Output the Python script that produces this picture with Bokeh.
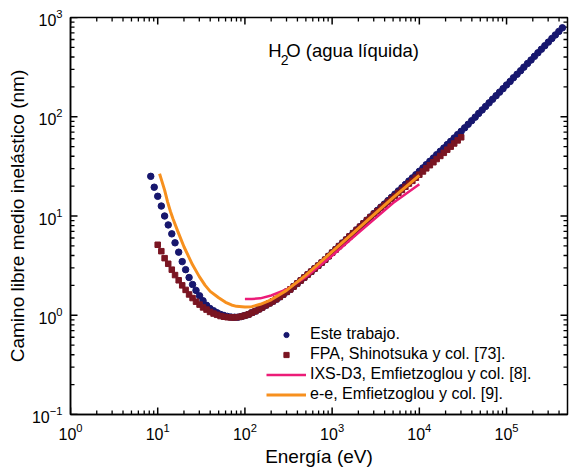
import math

from bokeh.plotting import figure
from bokeh.models import Range1d, FixedTicker, Legend, LegendItem, Label, Title
from bokeh.embed import file_html
from bokeh.resources import INLINE

FONT = "Liberation Sans"

# Inelastic mean free path of electrons in liquid water (nm) vs energy (eV)

# Este trabajo
este_E = [8.32, 9.12,
          10.0, 11.0, 12.0, 13.2, 14.5, 15.8, 17.4, 19.1, 20.9, 22.9, 25.1, 27.5, 30.2,
          33.1, 36.3, 39.8, 43.7, 47.9, 52.5, 57.5, 63.1, 69.2, 75.9, 83.2, 91.2,
          100, 110, 120, 132, 145, 158, 174, 191, 209, 229, 251, 275, 302,
          331, 363, 398, 437, 479, 525, 575, 631, 692, 759, 832, 912,
          1000, 1100, 1200, 1320, 1450, 1580, 1740, 1910, 2090, 2290, 2510, 2750, 3020,
          3310, 3630, 3980, 4370, 4790, 5250, 5750, 6310, 6920, 7590, 8320, 9120,
          10000, 11000, 12000, 13200, 14500, 15800, 17400, 19100, 20900, 22900, 25100,
          27500, 30200, 33100, 36300, 39800, 43700, 47900, 52500, 57500, 63100, 69200,
          75900, 83200, 91200,
          100000, 110000, 120000, 132000, 145000, 158000, 174000, 191000, 209000,
          229000, 251000, 275000, 302000, 331000, 363000, 398000, 437000]
este_L = [25.1, 19.5,
          15.8, 12.6, 10.0, 8.13, 6.61, 5.37, 4.32, 3.47, 2.88, 2.40, 2.04, 1.78, 1.57,
          1.40, 1.26, 1.17, 1.11, 1.06, 1.02, 0.995, 0.973, 0.959, 0.955, 0.957, 0.971,
          0.993, 1.02, 1.06, 1.10, 1.15, 1.20, 1.26, 1.32, 1.38, 1.45, 1.53, 1.62, 1.72,
          1.82, 1.95, 2.09, 2.24, 2.40, 2.57, 2.75, 2.95, 3.16, 3.39, 3.63, 3.94,
          4.27, 4.60, 4.97, 5.35, 5.77, 6.22, 6.71, 7.24, 7.80, 8.41, 9.08, 9.79, 10.6,
          11.4, 12.3, 13.2, 14.3, 15.4, 16.6, 17.9, 19.3, 20.8, 22.5, 24.2, 26.1,
          28.2, 30.5, 32.9, 35.6, 38.4, 41.5, 44.9, 48.4, 52.4, 56.5, 61.1, 66.1, 71.3,
          77.3, 83.9, 91.2, 99.1, 108, 117, 127, 138, 150, 163, 177, 192,
          209, 227, 247, 268, 291, 316, 344, 373, 406, 441, 479, 520, 565, 614, 667,
          724, 787]

# FPA, Shinotsuka y col.
fpa_E = [10.0, 11.0, 12.0, 13.2, 14.5, 15.8, 17.4, 19.1, 20.9, 22.9, 25.1, 27.5, 30.2,
         33.1, 36.3, 39.8, 43.7, 47.9, 52.5, 57.5, 63.1, 69.2, 75.9, 83.2, 91.2,
         100, 110, 120, 132, 145, 158, 174, 191, 209, 229, 251, 275, 302,
         331, 363, 398, 437, 479, 525, 575, 631, 692, 759, 832, 912,
         1000, 1100, 1200, 1320, 1450, 1580, 1740, 1910, 2090, 2290, 2510, 2750, 3020,
         3310, 3630, 3980, 4370, 4790, 5250, 5750, 6310, 6920, 7590, 8320, 9120,
         10000, 11000, 12000, 13200, 14500, 15800, 17400, 19100, 20900, 22900, 25100,
         27500, 30200]
fpa_L = [5.13, 4.42, 3.76, 3.30, 2.88, 2.54, 2.25, 2.00, 1.80, 1.62, 1.49, 1.37, 1.28,
         1.20, 1.14, 1.08, 1.04, 1.01, 0.982, 0.966, 0.955, 0.951, 0.951, 0.957, 0.971,
         0.993, 1.02, 1.06, 1.10, 1.15, 1.20, 1.26, 1.32, 1.38, 1.45, 1.53, 1.62, 1.72,
         1.82, 1.95, 2.09, 2.24, 2.40, 2.57, 2.75, 2.95, 3.16, 3.39, 3.63, 3.94,
         4.27, 4.60, 4.97, 5.35, 5.77, 6.22, 6.71, 7.24, 7.80, 8.41, 9.08, 9.74, 10.5,
         11.2, 12.1, 12.9, 13.9, 14.9, 15.9, 17.1, 18.3, 19.7, 21.2, 22.6, 24.3,
         26.1, 28.1, 30.2, 32.5, 34.8, 37.5, 40.3, 43.3, 46.6, 50.0, 53.8, 57.8, 62.1]

# IXS-D3, Emfietzoglou y col.
ixs_E = [100, 120, 150, 200, 300, 500, 1000, 2000, 5000, 10000]
ixs_L = [1.46, 1.46, 1.48, 1.58, 1.82, 2.43, 3.98, 6.76, 13.5, 20.9]

# e-e, Emfietzoglou y col.
ee_E = [10.5, 11, 12, 13, 14, 15, 17, 20, 25, 30, 35, 40, 50, 60, 70, 80, 100, 120,
        150, 200, 300, 500, 1000, 2000, 5000, 10000]
ee_L = [26.6, 23.4, 18.2, 13.8, 11.1, 9.33, 7.0, 4.90, 3.24, 2.45, 2.0, 1.74, 1.50,
        1.35, 1.27, 1.23, 1.21, 1.22, 1.29, 1.43, 1.78, 2.54, 4.37, 7.50, 15.3, 25.7]

x_ticks = [1, 10, 100, 1000, 10000, 100000]
y_ticks = [0.1, 1, 10, 100, 1000]
X_MIN, X_MAX = 1, 5e5
Y_MIN, Y_MAX = 0.1, 1000

legend_labels = ["Este trabajo.", "FPA, Shinotsuka y col. [73].",
                 "IXS-D3, Emfietzoglou y col. [8].", "e-e, Emfietzoglou y col. [9]."]

NAVY = "#17176e"
MAROON = "#7a1522"
PINK = "#ec1c78"
ORANGE = "#f7901e"

p = figure(width=574, height=475, x_axis_type="log", y_axis_type="log",
           x_range=Range1d(X_MIN, X_MAX), y_range=Range1d(Y_MIN, Y_MAX),
           output_backend="svg", toolbar_location=None,
           min_border_left=70, min_border_right=7, min_border_top=17,
           min_border_bottom=61)
p.xgrid.visible = False
p.ygrid.visible = False
p.outline_line_color = "black"
p.outline_line_width = 1.5
p.background_fill_color = "white"
p.border_fill_color = "white"


def minor(ticks, upper):
    return [t * m for t in ticks for m in range(2, 10) if t * m < upper]


x_minor = minor(x_ticks, X_MAX)
y_minor = minor(y_ticks, Y_MAX)

for ax, ticks in ((p.xaxis[0], x_ticks), (p.yaxis[0], y_ticks)):
    ax.ticker = FixedTicker(ticks=ticks)
    ax.axis_line_color = "black"
    ax.axis_line_width = 1.5
    ax.major_tick_in = 0
    ax.major_tick_out = 0
    ax.minor_tick_in = 0
    ax.minor_tick_out = 0
    ax.major_label_text_font = FONT
    ax.major_label_text_font_size = "16px"
    ax.major_label_text_color = "black"
    ax.major_label_standoff = 8

p.xaxis.axis_label = "Energía (eV)"
p.xaxis.axis_label_text_font = FONT
p.xaxis.axis_label_text_font_size = "19px"
p.xaxis.axis_label_text_font_style = "normal"
p.xaxis.axis_label_text_color = "black"
p.xaxis.axis_label_standoff = 3

p.add_layout(Title(text="Camino libre medio inelástico (nm)", align="center",
                   offset=-12, text_font=FONT, text_font_size="19px",
                   text_font_style="normal", text_color="black", standoff=2),
             "left")

# Inward tick marks on all four sides: dash markers centred on the frame
# edges; the frame clip keeps only the inner half of each one.
VERT = math.pi / 2
for vals, size, lw in ((x_ticks, 14, 1.5), (x_minor, 8, 1.3)):
    n = len(vals)
    p.scatter(vals, [Y_MIN] * n, marker="dash", angle=VERT, size=size,
              line_color="black", line_width=lw)
    p.scatter(vals, [Y_MAX] * n, marker="dash", angle=VERT, size=size,
              line_color="black", line_width=lw)
for vals, size, lw in ((y_ticks, 14, 1.5), (y_minor, 8, 1.3)):
    n = len(vals)
    p.scatter([X_MIN] * n, vals, marker="dash", size=size,
              line_color="black", line_width=lw)
    p.scatter([X_MAX] * n, vals, marker="dash", size=size,
              line_color="black", line_width=lw)

r_este = p.scatter(este_E, este_L, marker="circle", size=6.5,
                   fill_color=NAVY, line_color=NAVY)
r_fpa = p.scatter(fpa_E, fpa_L, marker="square", size=5.5,
                  fill_color=MAROON, line_color=MAROON)
r_ixs = p.line(ixs_E, ixs_L, line_color=PINK, line_width=2.5)
r_ee = p.line(ee_E, ee_L, line_color=ORANGE, line_width=3)

legend = Legend(items=[LegendItem(label=lab, renderers=[r]) for lab, r in
                       zip(legend_labels, [r_este, r_fpa, r_ixs, r_ee])],
                location=(196, 10), orientation="vertical", padding=0, margin=0,
                spacing=0, glyph_width=40, glyph_height=13, label_height=20,
                label_standoff=4, label_text_font=FONT, label_text_font_size="16px",
                label_text_color="black",
                border_line_alpha=0, background_fill_alpha=0)
p.add_layout(legend)

# H2O (agua líquida) heading inside the frame
HEAD_E, HEAD_L = 185, 470
p.add_layout(Label(x=HEAD_E, y=HEAD_L, text="H", text_font=FONT,
                   text_font_size="18.5px", text_color="black",
                   text_baseline="alphabetic", text_align="left"))
p.add_layout(Label(x=HEAD_E, y=HEAD_L, text="2", x_offset=12.5, y_offset=-10,
                   text_font=FONT, text_font_size="14px", text_color="black",
                   text_baseline="alphabetic", text_align="left"))
p.add_layout(Label(x=HEAD_E, y=HEAD_L, text="O (agua líquida)", x_offset=18,
                   text_font=FONT, text_font_size="18.5px", text_color="black",
                   text_baseline="alphabetic", text_align="left"))

open("out.html", "w").write(file_html(p, INLINE))
